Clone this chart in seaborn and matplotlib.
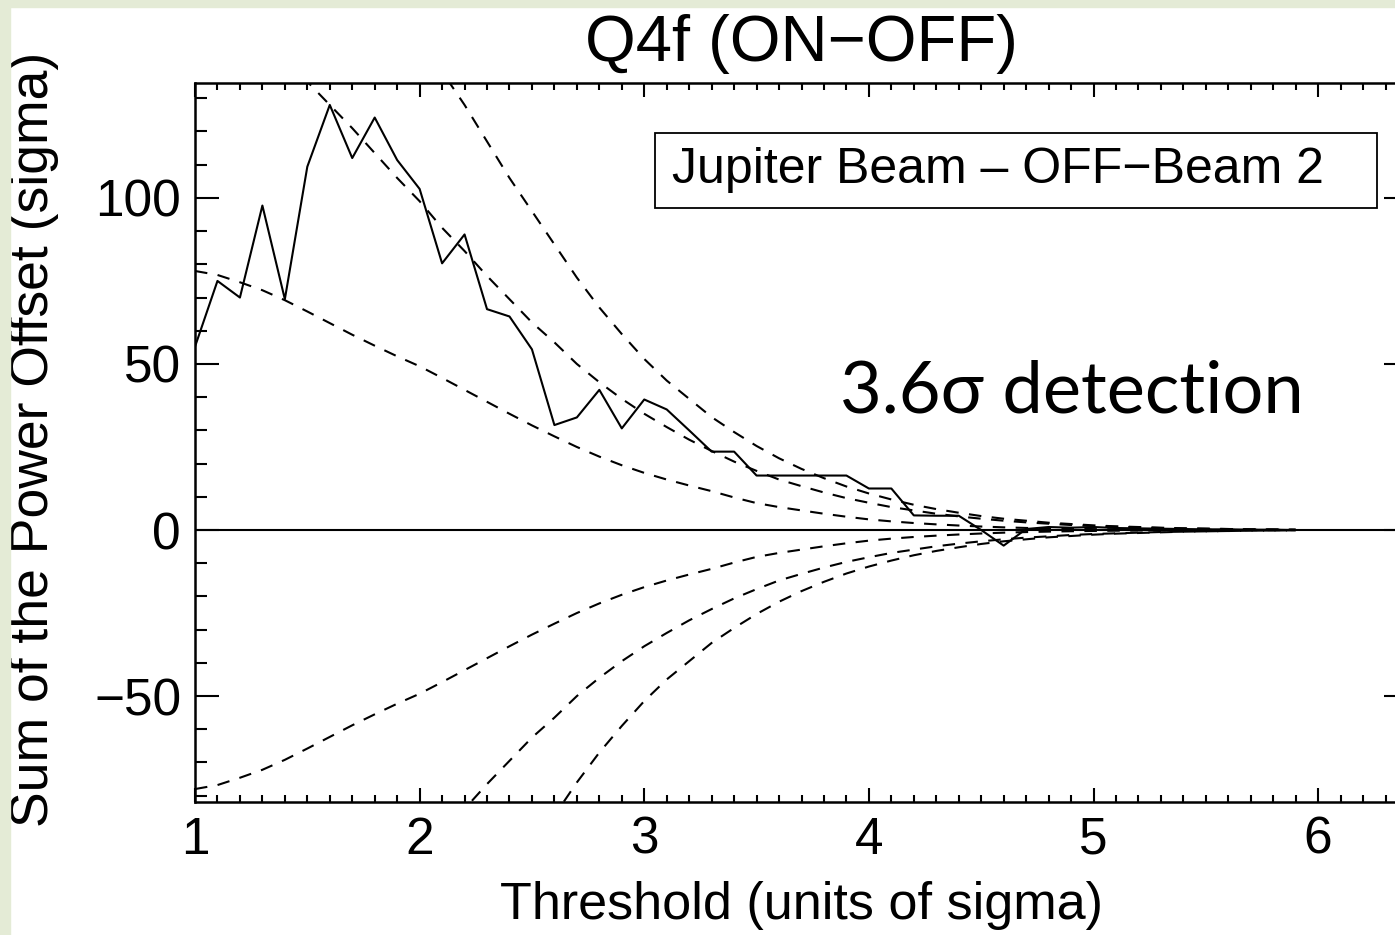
import matplotlib
matplotlib.use("Agg")
import matplotlib.pyplot as plt
from matplotlib.patches import Rectangle
from matplotlib.ticker import MultipleLocator, FixedLocator
import numpy as np
import seaborn as sns

# Threshold grid (units of sigma)
threshold = [1.0, 1.1, 1.2, 1.3, 1.4, 1.5, 1.6, 1.7, 1.8, 1.9,
             2.0, 2.1, 2.2, 2.3, 2.4, 2.5, 2.6, 2.7, 2.8, 2.9,
             3.0, 3.1, 3.2, 3.3, 3.4, 3.5, 3.6, 3.7, 3.8, 3.9,
             4.0, 4.1, 4.2, 4.3, 4.4, 4.5, 4.6, 4.7, 4.8, 4.9,
             5.0, 5.1, 5.2, 5.3, 5.4, 5.5, 5.6, 5.7, 5.8, 5.9]

# Measured sum of the power offset (ON-OFF)
power_offset = [55.2, 75.0, 70.0, 97.7, 69.5, 109.4, 128.0, 112.0, 124.2, 111.4,
                102.7, 80.3, 89.0, 66.5, 64.3, 54.4, 31.6, 33.9, 42.2, 30.6,
                39.3, 36.3, 30.0, 23.6, 23.6, 16.4, 16.4, 16.4, 16.4, 16.4,
                12.5, 12.5, 4.4, 4.3, 4.3, 0.0, -4.7, 0.3, 0.9, 0.7,
                0.9, 0.6, 0.5, 0.4, 0.3, 0.2, 0.2, 0.1, 0.1, 0.0]

# Noise envelopes (1, 2 and 3 sigma)
env1_x = threshold
env1 = [78.0, 76.8, 74.6, 72.2, 69.2, 65.8, 62.3, 58.8, 55.5, 52.3,
        49.3, 45.8, 42.2, 38.6, 35.0, 31.5, 28.2, 25.0, 22.1, 19.5,
        17.2, 15.2, 13.4, 11.7, 9.8, 8.1, 6.9, 5.9, 4.9, 4.0,
        3.2, 2.6, 2.1, 1.7, 1.35, 1.05, 0.8, 0.62, 0.48, 0.37,
        0.28, 0.21, 0.16, 0.12, 0.09, 0.07, 0.05, 0.04, 0.03, 0.02]

env2_x = threshold[4:]
env2 = [141.0, 135.0, 128.0, 121.0, 113.5, 106.0,
        99.0, 91.0, 84.0, 76.5, 69.5, 62.5, 56.5, 50.0, 44.5, 39.5,
        35.0, 31.0, 27.2, 23.8, 20.6, 17.8, 15.2, 13.2, 11.3, 9.6,
        8.2, 6.9, 5.9, 4.9, 4.1, 3.4, 2.8, 2.3, 1.9, 1.5,
        1.2, 1.0, 0.8, 0.6, 0.5, 0.4, 0.3, 0.2, 0.15, 0.1]

env3_x = threshold[10:]
env3 = [147.0, 138.0, 128.0, 117.0, 106.0, 96.0, 86.0, 76.0, 67.0, 59.0,
        51.5, 45.0, 39.5, 34.0, 29.5, 25.3, 21.6, 18.4, 15.6, 13.1,
        11.0, 9.2, 7.6, 6.3, 5.2, 4.2, 3.4, 2.8, 2.2, 1.8,
        1.4, 1.1, 0.9, 0.7, 0.5, 0.4, 0.3, 0.2, 0.15, 0.1]

x_ticks = [1, 2, 3, 4, 5, 6]
y_ticks = [-50, 0, 50, 100]

sns.set_theme(style="ticks")
plt.rcParams["font.family"] = ["Liberation Sans", "DejaVu Sans"]

W, H = 1395, 935
fig = plt.figure(figsize=(W / 100, H / 100), dpi=100, facecolor="white")

# light slide frame along the left and top edges
frame_col = "#e4ebd6"
fig.patches.append(Rectangle((0, 0), 10 / W, 1, transform=fig.transFigure,
                             color=frame_col, zorder=0))
fig.patches.append(Rectangle((0, 1 - 7 / H), 1, 7 / H, transform=fig.transFigure,
                             color=frame_col, zorder=0))

ax_l, ax_r, ax_t, ax_b = 195, 1408, 83, 802
ax = fig.add_axes([ax_l / W, 1 - ax_b / H, (ax_r - ax_l) / W, (ax_b - ax_t) / H])
ax.set_facecolor("white")

lw = 1.5
dash = (0, (6, 5))

# zero reference line
ax.axhline(0, color="black", lw=lw, zorder=2)

# noise envelopes (symmetric about zero)
for ex, ey in [(env1_x, env1), (env2_x, env2), (env3_x, env3)]:
    ey = np.asarray(ey)
    sns.lineplot(x=ex, y=ey, ax=ax, color="black", lw=lw, linestyle=dash,
                 estimator=None, sort=False, zorder=3)
    sns.lineplot(x=ex, y=-ey, ax=ax, color="black", lw=lw, linestyle=dash,
                 estimator=None, sort=False, zorder=3)

# measured curve
sns.lineplot(x=threshold, y=power_offset, ax=ax, color="black", lw=lw,
             estimator=None, sort=False, zorder=4)

ax.set_xlim(1, 6.4)
ax.set_ylim(-81.9, 134.6)

ax.xaxis.set_major_locator(FixedLocator(x_ticks))
ax.xaxis.set_minor_locator(MultipleLocator(0.1))
ax.yaxis.set_major_locator(FixedLocator(y_ticks))
ax.yaxis.set_minor_locator(MultipleLocator(10))
ax.set_xticklabels([str(v) for v in x_ticks])
ax.set_yticklabels([str(v).replace("-", "\u2212") for v in y_ticks])

for s in ax.spines.values():
    s.set_visible(True)
    s.set_linewidth(1.8)
    s.set_color("black")

ax.tick_params(which="both", direction="in", top=True, right=True,
               width=1.5, color="black", labelcolor="black", labelsize=37)
ax.tick_params(axis="x", which="major", length=10.1, pad=10)
ax.tick_params(axis="x", which="minor", length=5.0)
ax.tick_params(axis="y", which="major", length=17.3, pad=10)
ax.tick_params(axis="y", which="minor", length=8.6)
ax.grid(False)

ax.set_title("Q4f (ON\u2212OFF)", fontsize=47, pad=16, color="black")
ax.set_xlabel("Threshold (units of sigma)", fontsize=37.5, color="black")
ax.set_ylabel("Sum of the Power Offset (sigma)", fontsize=38.5, color="black")
ax.xaxis.set_label_coords(0.5, -0.110)
ax.yaxis.set_label_coords(-0.112, 0.505)

# label box
ax.add_patch(Rectangle((0.3795, 0.8261), 0.595, 0.1044, transform=ax.transAxes,
                       facecolor="white", edgecolor="black", lw=1.3, zorder=5))
ax.text(0.3936, 0.879, "Jupiter Beam \u2013 OFF\u2212Beam 2", transform=ax.transAxes,
        fontsize=36, va="center", ha="left", color="black", zorder=6)

ax.text(3.87, 35.5, "3.6\u03c3 detection", fontsize=52, va="baseline", ha="left",
        color="black", family=["Lato", "Noto Sans", "DejaVu Sans"], zorder=6)

fig.savefig("out.png", dpi=100, facecolor="white")
